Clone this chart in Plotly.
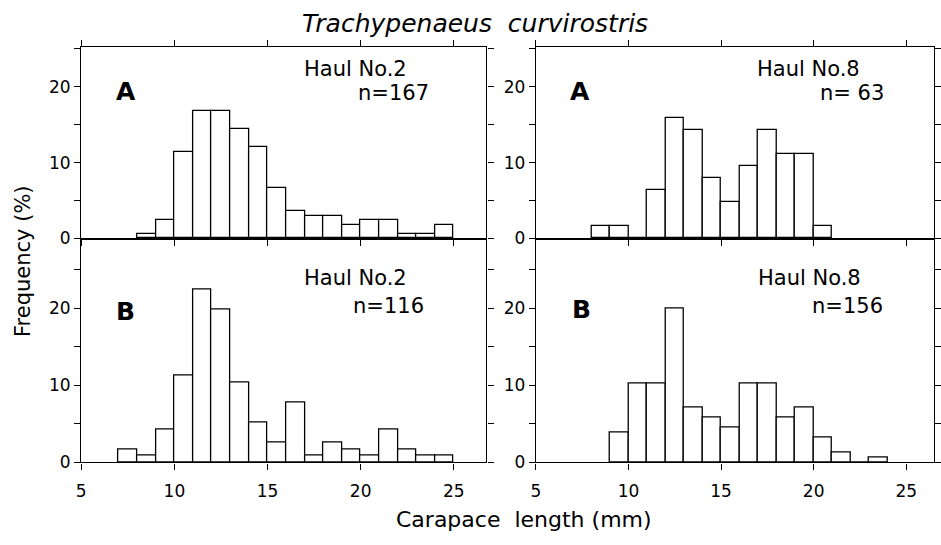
import plotly.graph_objects as go

# ---- data (percent frequency, 1-mm carapace-length classes; value = lower edge) ----
tl_start = [8, 9, 10, 11, 12, 13, 14, 15, 16, 17, 18, 19, 20, 21, 22, 23, 24]
tl_pct = [0.6, 2.4, 11.4, 16.8, 16.8, 14.4, 12.0, 6.6, 3.6, 3.0, 3.0, 1.8, 2.4, 2.4, 0.6, 0.6, 1.8]

tr_start = [8, 9, 10, 11, 12, 13, 14, 15, 16, 17, 18, 19, 20]
tr_pct = [1.59, 1.59, 0.0, 6.35, 15.87, 14.29, 7.94, 4.76, 9.52, 14.29, 11.11, 11.11, 1.59]

bl_start = [7, 8, 9, 10, 11, 12, 13, 14, 15, 16, 17, 18, 19, 20, 21, 22, 23, 24]
bl_pct = [1.72, 0.86, 4.31, 11.21, 22.41, 19.83, 10.34, 5.17, 2.59, 7.76, 0.86, 2.59, 1.72, 0.86, 4.31, 1.72, 0.86, 0.86]

br_start = [9, 10, 11, 12, 13, 14, 15, 16, 17, 18, 19, 20, 21, 22, 23]
br_pct = [3.85, 10.26, 10.26, 19.87, 7.05, 5.77, 4.49, 10.26, 10.26, 5.77, 7.05, 3.21, 1.28, 0.0, 0.64]

x_ticks = [5, 10, 15, 20, 25]
y_ticks = [0, 5, 10, 15, 20, 25]
y_ticktext = ["0", "", "10", "", "20", ""]

panels = [
    # (starts, pct, xaxis, yaxis, letter, haul, n)
    (tl_start, tl_pct, "x", "y", "A", "Haul No.2", "n=167"),
    (tr_start, tr_pct, "x2", "y2", "A", "Haul No.8", "n= 63"),
    (bl_start, bl_pct, "x3", "y3", "B", "Haul No.2", "n=116"),
    (br_start, br_pct, "x4", "y4", "B", "Haul No.8", "n=156"),
]

W, H = 941, 545
FONT = "DejaVu Sans"

fig = go.Figure()
for starts, pct, xa, ya, *_ in panels:
    fig.add_trace(go.Bar(
        x=[s + 0.5 for s in starts], y=pct, width=1.0,
        xaxis=xa, yaxis=ya,
        marker=dict(color="white", line=dict(color="black", width=1.3)),
        showlegend=False, hoverinfo="x+y",
    ))

# domains (paper fractions)
left_dom = [77 / W, 486 / W]
right_dom = [536 / W, 938 / W]
top_dom = [1 - 243 / H, 1 - 48 / H]
bot_dom = [1 - 471 / H, 1 - 243 / H]

axis_common = dict(showline=True, linecolor="black", linewidth=1.4,
                   ticks="outside", ticklen=6, tickwidth=1.3, tickcolor="black",
                   showgrid=False, zeroline=False,
                   tickfont=dict(family=FONT, size=17, color="black"))

def xax(dom, rng, labels, anchor, mirror):
    d = dict(axis_common)
    d.update(domain=dom, range=rng, tickvals=x_ticks, showticklabels=labels,
             anchor=anchor, fixedrange=True, mirror=mirror, ticklabelstandoff=7)
    return d

def yax(dom, rng, anchor):
    d = dict(axis_common)
    d.update(domain=dom, range=rng, tickvals=y_ticks, ticktext=y_ticktext,
             anchor=anchor, fixedrange=True, mirror="ticks")
    return d

fig.update_layout(
    width=W, height=H,
    margin=dict(l=0, r=0, t=0, b=0),
    paper_bgcolor="white", plot_bgcolor="white",
    bargap=0,
    xaxis=xax(left_dom, [5, 26.75], False, "y", "ticks"),
    yaxis=yax(top_dom, [0, 25.2], "x"),
    xaxis2=xax(right_dom, [5, 26.5], False, "y2", "ticks"),
    yaxis2=yax(top_dom, [0, 25.2], "x2"),
    xaxis3=xax(left_dom, [5, 26.75], True, "y3", True),
    yaxis3=yax(bot_dom, [0, 29.0], "x3"),
    xaxis4=xax(right_dom, [5, 26.5], True, "y4", True),
    yaxis4=yax(bot_dom, [0, 29.0], "x4"),
)

# panel labels
pos = {
    "x": dict(letter=(0.11, 0.77), haul=(0.545, 0.887), n=(0.863, 0.759)),
    "x2": dict(letter=(0.11, 0.77), haul=(0.55, 0.887), n=(0.88, 0.759)),
    "x3": dict(letter=(0.11, 0.675), haul=(0.545, 0.825), n=(0.851, 0.697)),
    "x4": dict(letter=(0.115, 0.684), haul=(0.552, 0.825), n=(0.878, 0.697)),
}
for starts, pct, xa, ya, letter, haul, n in panels:
    p = pos[xa]
    xr = xa + " domain"
    yr = ya + " domain"
    fig.add_annotation(xref=xr, yref=yr, x=p["letter"][0], y=p["letter"][1],
                       text="<b>" + letter + "</b>", showarrow=False,
                       xanchor="center", yanchor="middle",
                       font=dict(family=FONT, size=25, color="black"))
    fig.add_annotation(xref=xr, yref=yr, x=p["haul"][0], y=p["haul"][1],
                       text=haul, showarrow=False, xanchor="left", yanchor="middle",
                       font=dict(family=FONT, size=21, color="black"))
    fig.add_annotation(xref=xr, yref=yr, x=p["n"][0], y=p["n"][1],
                       text=n, showarrow=False, xanchor="right", yanchor="middle",
                       font=dict(family=FONT, size=21, color="black"))

# titles
fig.add_annotation(xref="paper", yref="paper", x=475 / W, y=1 - 24 / H,
                   text="<i>Trachypenaeus  curvirostris</i>", showarrow=False,
                   xanchor="center", yanchor="middle",
                   font=dict(family=FONT, size=25, color="black"))
fig.add_annotation(xref="paper", yref="paper", x=524 / W, y=1 - 529 / H,
                   text="Carapace  length (mm)", showarrow=False,
                   xanchor="center", yanchor="middle",
                   font=dict(family=FONT, size=22, color="black"))
fig.add_annotation(xref="paper", yref="paper", x=18 / W, y=1 - 266 / H,
                   text="Frequency (%)", showarrow=False, textangle=-90,
                   xanchor="center", yanchor="middle",
                   font=dict(family=FONT, size=21, color="black"))

fig.write_html("out.html", config=dict(displayModeBar=False))
